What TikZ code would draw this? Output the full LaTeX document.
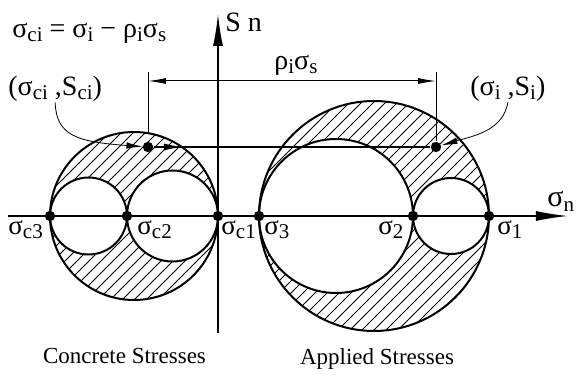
\documentclass[tikz,border=0pt]{standalone}
\usepackage{fontspec}
\setmainfont{Liberation Serif}
\usetikzlibrary{arrows.meta}

\newcommand{\subtxt}[1]{\raisebox{-0.3ex}{\fontsize{10.5}{11}\selectfont #1}}

\tikzset{
  dot/.style={circle, fill=black, inner sep=0pt, minimum size=5.2pt},
  lbl/.style={inner sep=0pt, font=\fontsize{14}{16}\selectfont},
  axlbl/.style={lbl, font=\fontsize{13.5}{15}\selectfont, anchor=base west},
  caption/.style={inner sep=0pt, font=\fontsize{11.5}{13}\selectfont},
  hatch/.style={line width=0.4pt},
  mohr/.style={line width=1pt},
  axis/.style={line width=0.8pt, -{Latex[length=16pt,width=5pt]}},
  extline/.style={line width=0.4pt},
  dimarrow/.style={line width=0.5pt, {Latex[length=9pt,width=3pt]}-{Latex[length=9pt,width=3pt]}},
  pointer/.style={line width=0.4pt, -{Latex[length=8pt,width=3.2pt]}}
}

\begin{document}
\begin{tikzpicture}[x=0.5pt, y=0.5pt]
    \useasboundingbox (-218,-159) rectangle (362,216);

    % 斜線部（コンクリート）
    \begin{scope}
        \clip (-84,0) circle (84);
        \foreach \c in {-264,-252,...,100}
            \draw[hatch] (\c-100,-100) -- (\c+100,100);
    \end{scope}
    % 斜線部（作用応力）
    \begin{scope}
        \clip (156,0) circle (115);
        \foreach \c in {-90,-78,...,400}
            \draw[hatch] (\c-130,-130) -- (\c+130,130);
    \end{scope}

    % モールの円
    \filldraw[mohr, fill=white] (-129.5,0) circle (38.5);
    \filldraw[mohr, fill=white] (-45.5,0) circle (45.5);
    \draw[mohr] (-84,0) circle (84);
    \filldraw[mohr, fill=white] (118,0) circle (77);
    \filldraw[mohr, fill=white] (233,0) circle (38);
    \draw[mohr] (156,0) circle (115);

    % 軸
    \coordinate (xs) at (-210,0);
    \coordinate (xe) at (350,0);
    \coordinate (ys) at (0,-117);
    \coordinate (ye) at (0,202);
    \draw[axis] (xs) -- (xe);
    \draw[axis] (ys) -- (ye);
    \node[lbl, anchor=base west] (sn) at (7,184) {S n};
    \node[lbl, font=\fontsize{15}{16}\selectfont, anchor=base west] (signame) at (329,9) {σ\subtxt{n}};

    % 主応力の点
    \node[dot] (c3) at (-168,0) {};
    \node[dot] (c2) at (-91,0) {};
    \node[dot] (c1) at (0,0) {};
    \node[dot] (a3) at (41,0) {};
    \node[dot] (a2) at (195,0) {};
    \node[dot] (a1) at (271,0) {};
    \node[axlbl] (lc3) at (-210,-19) {σ\subtxt{c3}};
    \node[axlbl] (lc2) at (-81,-19) {σ\subtxt{c2}};
    \node[axlbl] (lc1) at (3,-19) {σ\subtxt{c1}};
    \node[axlbl] (la3) at (46,-19) {σ\subtxt{3}};
    \node[axlbl] (la2) at (160,-19) {σ\subtxt{2}};
    \node[axlbl] (la1) at (279,-19) {σ\subtxt{1}};

    % 応力点と移動量
    \node[dot] (ci) at (-70,69) {};
    \node[dot] (si) at (218,69) {};
    \coordinate (cia) at (-36,69);
    \draw[line width=0.6pt] (ci) -- (si);
    \draw[line width=0.6pt, -{Latex[length=9pt,width=3.5pt]}] (ci) -- (cia);

    \coordinate (dl) at (-70,144);
    \coordinate (dlb) at (-70,83);
    \coordinate (dr) at (218,144);
    \draw[extline] (dl) -- (dlb);
    \draw[extline] (dr) -- (si);
    \coordinate (ml) at (-70,135);
    \coordinate (mr) at (218,135);
    \draw[dimarrow] (ml) -- (mr);
    \node[lbl, anchor=base west] (shift) at (56,146) {ρ\subtxt{i}σ\subtxt{s}};

    \node[lbl, anchor=base west] (eq) at (-206,178)
        {σ\subtxt{ci} = σ\subtxt{i} − ρ\subtxt{i}σ\subtxt{s}};
    \node[lbl, anchor=base west] (lci) at (-210,120) {(σ\subtxt{ci} ,S\subtxt{ci})};
    \node[lbl, anchor=base west] (lsi) at (252,120) {(σ\subtxt{i} ,S\subtxt{i})};
    \draw[pointer] (lci.south) .. controls (-162,80) and (-140,74) .. (ci);
    \draw[pointer] (lsi.south) .. controls (285,85) and (255,80) .. (si);

    \node[caption, anchor=base] (conc) at (-93.5,-148) {Concrete Stresses};
    \node[caption, anchor=base] (appl) at (159,-149) {Applied Stresses};
\end{tikzpicture}
\end{document}
